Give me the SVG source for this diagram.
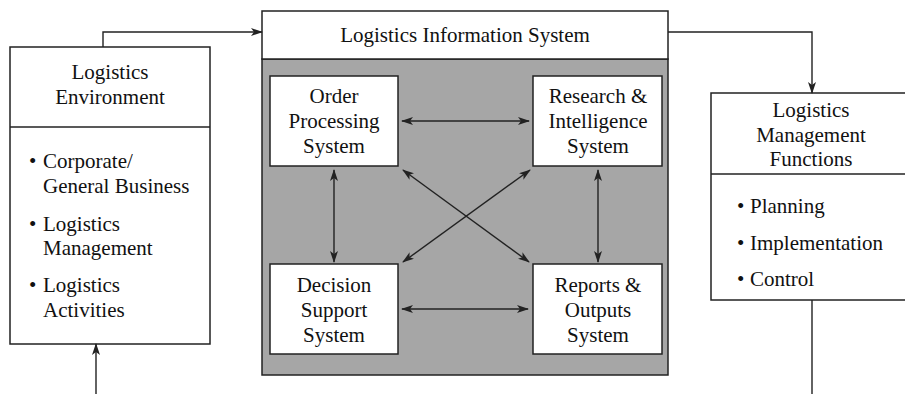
<svg xmlns="http://www.w3.org/2000/svg" width="905" height="394" viewBox="0 0 905 394">
<style>
.box{fill:#fff;stroke:#222;stroke-width:1.5}
.gray{fill:#a6a6a6;stroke:#222;stroke-width:1.5}
.ln{fill:none;stroke:#222;stroke-width:1.4}
svg text, text.t{font-family:'Liberation Serif',serif !important;font-size:21px !important;fill:#111}
.c{text-anchor:middle}
</style>
<defs>
<marker id="ah" viewBox="0 0 12 8" refX="11" refY="4" markerWidth="12" markerHeight="8" markerUnits="userSpaceOnUse" orient="auto-start-reverse">
<path d="M0,0 L12,4 L0,8 L3,4 z" fill="#222"/>
</marker>
</defs>
<g font-family="Liberation Serif" font-size="21" fill="#111">
<g id="env">
<rect class="box" x="10" y="47" width="200" height="297"/>
<line class="ln" x1="10" y1="127" x2="210" y2="127"/>
<text class="t c" x="110" y="79">Logistics</text>
<text class="t c" x="110" y="104">Environment</text>
<text class="t" x="29" y="168">•</text><text class="t" x="43" y="168">Corporate/</text>
<text class="t" x="43" y="193">General Business</text>
<text class="t" x="29" y="231">•</text><text class="t" x="43" y="231">Logistics</text>
<text class="t" x="43" y="255">Management</text>
<text class="t" x="29" y="292">•</text><text class="t" x="43" y="292">Logistics</text>
<text class="t" x="43" y="317">Activities</text>
</g>
<g id="lis">
<rect class="gray" x="262" y="59" width="406" height="316"/>
<rect class="box" x="262" y="11" width="406" height="48"/>
<text class="t c" x="465" y="42">Logistics Information System</text>
</g>
<g id="ops">
<rect class="box" x="270" y="76" width="128" height="90"/>
<text class="t c" x="334" y="103">Order</text>
<text class="t c" x="334" y="128">Processing</text>
<text class="t c" x="334" y="153">System</text>
</g>
<g id="ris">
<rect class="box" x="533" y="76" width="129" height="90"/>
<text class="t c" x="598" y="103">Research &amp;</text>
<text class="t c" x="598" y="128">Intelligence</text>
<text class="t c" x="598" y="153">System</text>
</g>
<g id="dss">
<rect class="box" x="270" y="264" width="128" height="90"/>
<text class="t c" x="334" y="292">Decision</text>
<text class="t c" x="334" y="317">Support</text>
<text class="t c" x="334" y="342">System</text>
</g>
<g id="ros">
<rect class="box" x="533" y="264" width="129" height="90"/>
<text class="t c" x="598" y="292">Reports &amp;</text>
<text class="t c" x="598" y="317">Outputs</text>
<text class="t c" x="598" y="342">System</text>
</g>
<g id="lmf">
<rect class="box" x="711" y="93" width="200" height="207"/>
<line class="ln" x1="711" y1="174" x2="905" y2="174"/>
<text class="t c" x="811" y="117">Logistics</text>
<text class="t c" x="811" y="142">Management</text>
<text class="t c" x="811" y="166">Functions</text>
<text class="t" x="737" y="213">•</text><text class="t" x="750" y="213">Planning</text>
<text class="t" x="737" y="250">•</text><text class="t" x="750" y="250">Implementation</text>
<text class="t" x="737" y="286">•</text><text class="t" x="750" y="286">Control</text>
</g>
</g>
<g id="connectors">
<polyline class="ln" points="103,47 103,32 262,32" marker-end="url(#ah)"/>
<polyline class="ln" points="668,32 812,32 812,93" marker-end="url(#ah)"/>
<line class="ln" x1="812" y1="300" x2="812" y2="394"/>
<line class="ln" x1="96" y1="394" x2="96" y2="344" marker-end="url(#ah)"/>
<line class="ln" x1="402" y1="121" x2="529" y2="121" marker-start="url(#ah)" marker-end="url(#ah)"/>
<line class="ln" x1="402" y1="309" x2="528" y2="309" marker-start="url(#ah)" marker-end="url(#ah)"/>
<line class="ln" x1="334" y1="170" x2="334" y2="262" marker-start="url(#ah)" marker-end="url(#ah)"/>
<line class="ln" x1="598" y1="170" x2="598" y2="262" marker-start="url(#ah)" marker-end="url(#ah)"/>
<line class="ln" x1="403" y1="170" x2="529" y2="262" marker-start="url(#ah)" marker-end="url(#ah)"/>
<line class="ln" x1="530" y1="170" x2="403" y2="262" marker-start="url(#ah)" marker-end="url(#ah)"/>
</g>
</svg>
